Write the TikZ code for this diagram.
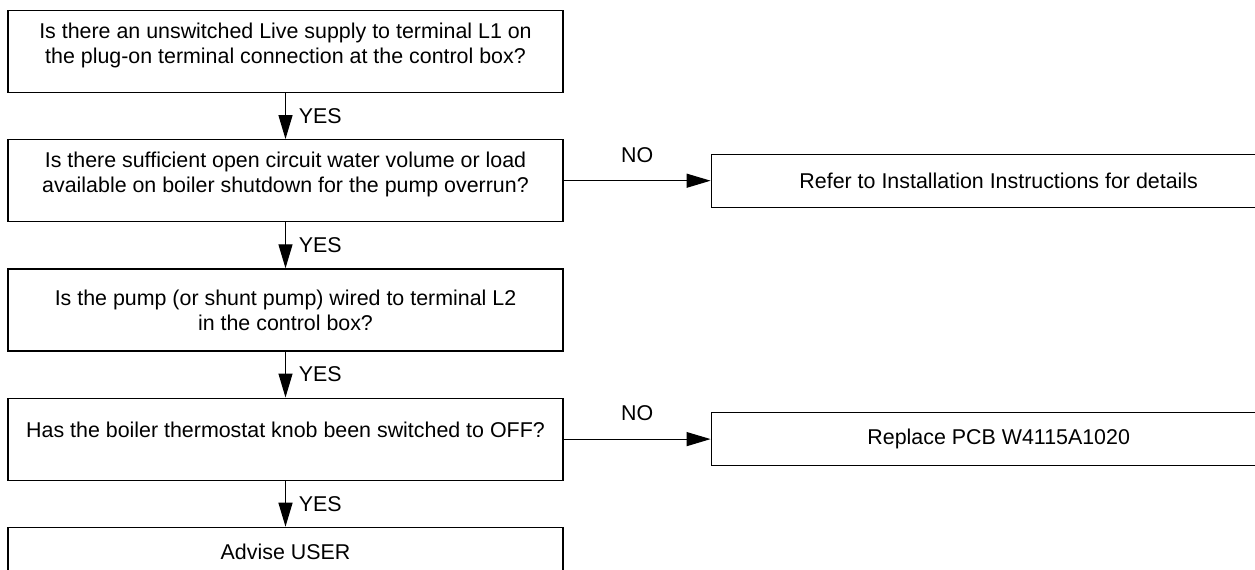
\documentclass[tikz,border=0pt]{standalone}
\usepackage{fontspec}
\setmainfont{Liberation Sans}
\usetikzlibrary{positioning,arrows.meta}

\begin{document}
\begin{tikzpicture}[
  x=0.5pt, y=-0.5pt,
  node distance=23pt and 73.5pt,
  every node/.style={font=\fontsize{10.7}{12.5}\selectfont, align=center},
  qbox/.style={draw, line width=0.6pt, minimum width=277.5pt, minimum height=41pt, inner sep=0pt},
  nobox/.style={draw, line width=0.6pt, minimum width=287.5pt, minimum height=26.5pt, inner sep=0pt},
  flow/.style={line width=0.6pt, -{Triangle[length=12pt,width=7pt]}}
]
\useasboundingbox (0,0) rectangle (1255,569);

\node[qbox, text depth=8pt] (live) at (285.5,51.5) {Is there an unswitched Live supply to terminal L1 on\\the plug-on terminal connection at the control box?};
\node[qbox, text depth=8pt, below=of live] (volume) {Is there sufficient open circuit water volume or load\\available on boiler shutdown for the pump overrun?};
\node[qbox, below=of volume] (pump) {Is the pump (or shunt pump) wired to terminal L2\\in the control box?};
\node[qbox, text depth=9pt, below=of pump] (knob) {Has the boiler thermostat knob been switched to OFF?};
\node[qbox, below=of knob, minimum height=25pt] (advise) {Advise USER};

\node[nobox, right=of volume] (refer) {Refer to Installation Instructions for details};
\node[nobox, right=of knob] (pcb) {Replace PCB W4115A1020};

% yes branch
\draw[flow] (live) -- node[right=3pt] {YES} (volume);
\draw[flow] (volume) -- node[right=3pt] {YES} (pump);
\draw[flow] (pump) -- node[right=3pt] {YES} (knob);
\draw[flow] (knob) -- node[right=3pt] {YES} (advise);

% no branch
\draw[flow] (volume) -- node[above=5.5pt] {NO} (refer);
\draw[flow] (knob) -- node[above=5.5pt] {NO} (pcb);
\end{tikzpicture}
\end{document}
